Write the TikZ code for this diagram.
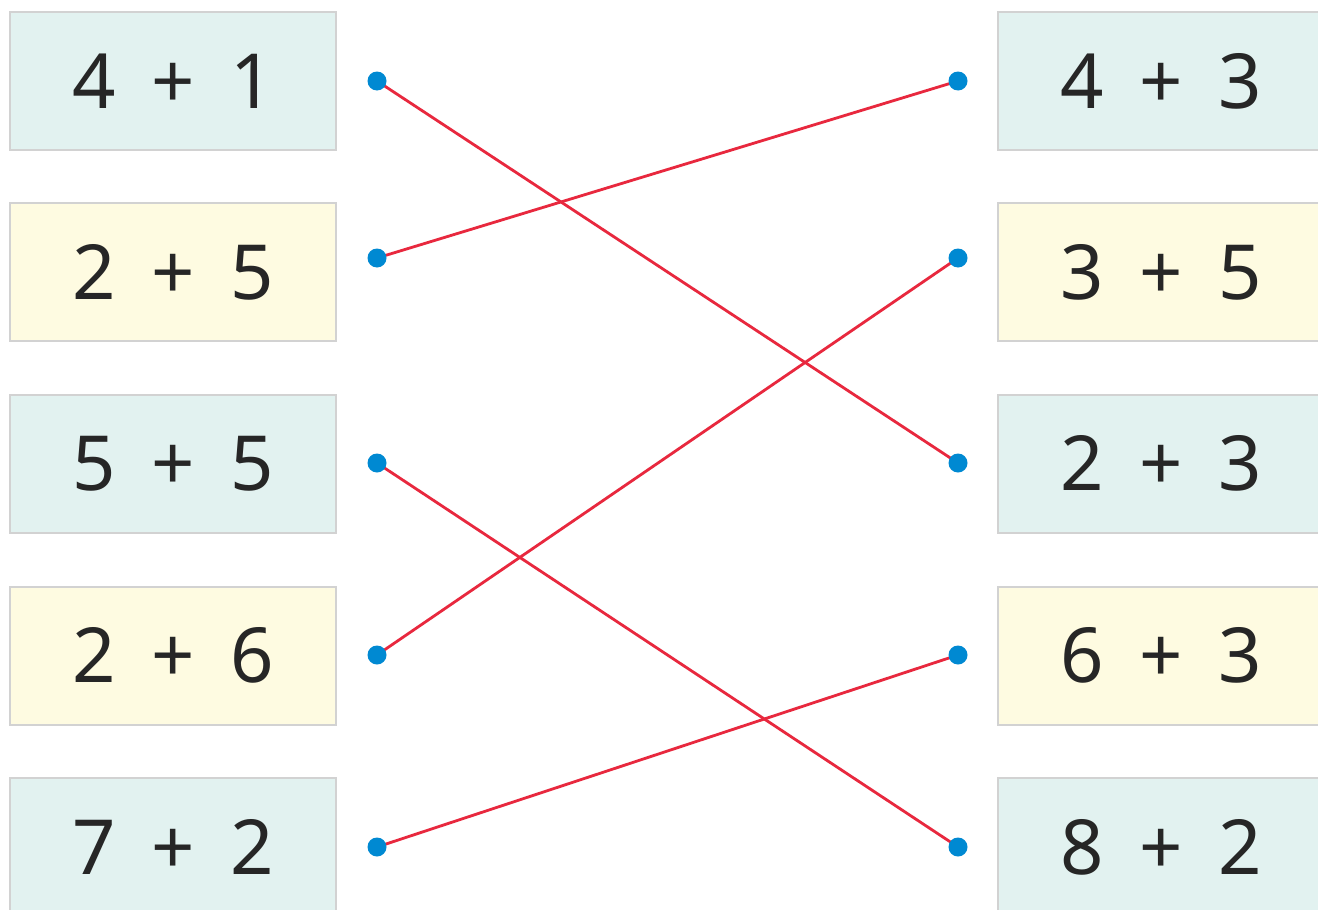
\documentclass[tikz,border=0pt]{standalone}
\usepackage{fontspec}
\setmainfont{Noto Sans}
\definecolor{boxblue}{HTML}{E2F2F0}
\definecolor{boxyellow}{HTML}{FEFBE1}
\definecolor{boxedge}{HTML}{D2D2D2}
\definecolor{linkred}{HTML}{E8283E}
\definecolor{dotblue}{HTML}{0089D2}
\tikzset{
  sumbox/.style={draw=boxedge, line width=2pt, minimum width=326pt, minimum height=138pt, inner sep=0pt, anchor=center, text=black!85, font=\fontsize{76}{80}\selectfont},
  bluebox/.style={sumbox, fill=boxblue},
  yellowbox/.style={sumbox, fill=boxyellow},
  dotpt/.style={circle, fill=dotblue, inner sep=0pt, minimum size=19pt},
  link/.style={draw=linkred, line width=2.8pt}
}
\newcommand{\sumtxt}[2]{\makebox[80pt]{#1}\makebox[78pt]{+}\makebox[80pt]{#2}}
\begin{document}
\begin{tikzpicture}[x=1pt,y=-1pt]
\useasboundingbox (0,0) rectangle (1318,910);
\clip (0,0) rectangle (1318,910);
\fill[white] (0,0) rectangle (1318,910);
% left boxes
\node[bluebox]   (L1) at (173,81)  {\sumtxt{4}{1}};
\node[yellowbox] (L2) at (173,272) {\sumtxt{2}{5}};
\node[bluebox]   (L3) at (173,463.5) {\sumtxt{5}{5}};
\node[yellowbox] (L4) at (173,655.5) {\sumtxt{2}{6}};
\node[bluebox]   (L5) at (173,847) {\sumtxt{7}{2}};
% right boxes
\node[bluebox]   (R1) at (1161,81)  {\sumtxt{4}{3}};
\node[yellowbox] (R2) at (1161,272) {\sumtxt{3}{5}};
\node[bluebox]   (R3) at (1161,463.5) {\sumtxt{2}{3}};
\node[yellowbox] (R4) at (1161,655.5) {\sumtxt{6}{3}};
\node[bluebox]   (R5) at (1161,847) {\sumtxt{8}{2}};
% dots
\coordinate (a1) at (377,81);
\coordinate (a2) at (377,258);
\coordinate (a3) at (377,463);
\coordinate (a4) at (377,655);
\coordinate (a5) at (377,847);
\coordinate (b1) at (958,81);
\coordinate (b2) at (958,258);
\coordinate (b3) at (958,463);
\coordinate (b4) at (958,655);
\coordinate (b5) at (958,847);
\draw[link] (a1) -- (b3);
\draw[link] (a2) -- (b1);
\draw[link] (a3) -- (b5);
\draw[link] (a4) -- (b2);
\draw[link] (a5) -- (b4);
\foreach \p in {a1,a2,a3,a4,a5,b1,b2,b3,b4,b5}
  \node[dotpt] (d\p) at (\p) {};
\end{tikzpicture}
\end{document}
